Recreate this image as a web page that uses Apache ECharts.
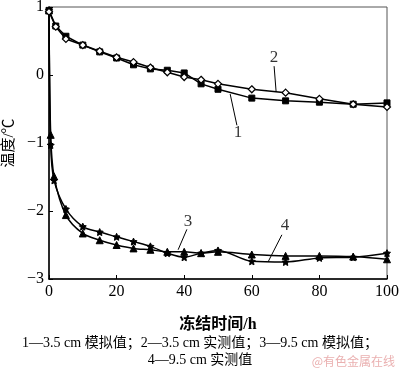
<!DOCTYPE html>
<html><head><meta charset="utf-8">
<script src="https://cdn.jsdelivr.net/npm/echarts@6/dist/echarts.min.js"></script>
<style>html,body{margin:0;padding:0;background:#fff}#c{width:400px;height:370px}</style>
</head><body><div id="c"></div>
<script>
var xA = [0, 2, 5, 10, 15, 20, 25, 30, 35, 40, 45, 50, 60, 70, 80, 90, 100];
var sim35 = [0.95, 0.72, 0.57, 0.44, 0.34, 0.25, 0.15, 0.09, 0.07, 0.03, -0.13, -0.21, -0.34, -0.38, -0.40, -0.43, -0.41];
var mea35 = [0.93, 0.71, 0.53, 0.44, 0.35, 0.26, 0.19, 0.11, 0.04, -0.03, -0.07, -0.13, -0.21, -0.26, -0.35, -0.43, -0.47];
var xB = [0, 0.5, 1.5, 5, 10, 15, 20, 25, 30, 35, 40, 45, 50, 60, 70, 80, 90, 100];
var sim95 = [0.95, -0.88, -1.49, -2.06, -2.33, -2.43, -2.50, -2.55, -2.57, -2.60, -2.60, -2.62, -2.60, -2.64, -2.66, -2.66, -2.67, -2.71];
var mea95 = [0.95, -1.03, -1.55, -1.97, -2.23, -2.31, -2.38, -2.45, -2.52, -2.62, -2.68, -2.62, -2.58, -2.74, -2.75, -2.69, -2.68, -2.62];
var xTicks = [0, 20, 40, 60, 80, 100];
var yTicks = [-3, -2, -1, 0, 1];
var tags = [
  {name: '1', at: [55.9, -0.84], line: [[53.6, -0.28], [55.6, -0.74]]},
  {name: '2', at: [66.6, 0.25], line: [[66.6, 0.13], [67.2, -0.25]]},
  {name: '3', at: [41.1, -2.16], line: [[40.8, -2.27], [38.2, -2.57]]},
  {name: '4', at: [69.8, -2.22], line: [[68.9, -2.35], [64.8, -2.75]]}
];
var notes = ['1—3.5 cm 模拟值；2—3.5 cm 实测值；3—9.5 cm 模拟值；', '4—9.5 cm 实测值'];
var mark = '@有色金属在线';

var serif = '"Liberation Serif", "Noto Sans CJK SC", serif';
var star = 'path://M0,-10 L2.9,-4 9.5,-3.1 4.7,1.5 5.9,8.1 0,5 -5.9,8.1 -4.7,1.5 -9.5,-3.1 -2.9,-4 Z';
function zip(xs, ys) { return xs.map(function (x, i) { return [x, ys[i]]; }); }
var base = {type: 'line', lineStyle: {color: '#000', width: 1.5}, itemStyle: {color: '#000', borderColor: '#000'}, z: 3};
var series = [
  Object.assign({}, base, {data: zip(xA, sim35), symbol: 'rect', symbolSize: 6}),
  Object.assign({}, base, {data: zip(xA, mea35), symbol: 'diamond', symbolSize: 7, itemStyle: {color: '#fff', borderColor: '#000', borderWidth: 1.2}, z: 4}),
  Object.assign({}, base, {data: zip(xB, sim95), symbol: 'triangle', symbolSize: 7, smooth: 0.3}),
  Object.assign({}, base, {data: zip(xB, mea95), symbol: star, symbolSize: 7, smooth: 0.3})
];
tags.forEach(function (t) {
  series.push({type: 'line', data: t.line, symbol: 'none', lineStyle: {color: '#000', width: 1}, silent: true});
  series.push({type: 'scatter', data: [t.at], symbolSize: 0, silent: true,
    label: {show: true, position: 'inside', formatter: t.name, fontFamily: serif, fontSize: 17, color: '#000'}});
});
var chart = echarts.init(document.getElementById('c'));
chart.setOption({
  animation: false,
  grid: {left: 49, right: 13, top: 7, bottom: 91, show: true, borderColor: '#555', borderWidth: 1,
    containLabel: false, outerBoundsMode: 'none'},
  xAxis: {type: 'value', min: 0, max: 100, interval: 20,
    axisLine: {show: true, onZero: false, lineStyle: {color: '#000', width: 1.5}},
    axisTick: {show: true, inside: true, length: 4, lineStyle: {color: '#000'}},
    splitLine: {show: false},
    axisLabel: {fontFamily: serif, fontSize: 16, color: '#000', margin: 5,
      customValues: xTicks},
    name: '冻结时间/h', nameLocation: 'middle', nameGap: 38,
    nameTextStyle: {fontFamily: serif, fontSize: 16, fontWeight: 'bold', color: '#000'}},
  yAxis: {type: 'value', min: -3, max: 1, interval: 1,
    axisLine: {show: true, onZero: false, lineStyle: {color: '#000', width: 1.5}},
    axisTick: {show: true, inside: true, length: 4, lineStyle: {color: '#000'}},
    splitLine: {show: false},
    axisLabel: {fontFamily: serif, fontSize: 16, color: '#000', margin: 5,
      formatter: function (v) { return String(v).replace('-', '−'); }},
    name: '温度/℃', nameLocation: 'middle', nameGap: 32,
    nameTextStyle: {fontFamily: serif, fontSize: 15, color: '#000'}},
  series: series,
  graphic: [
    {type: 'text', left: 'center', top: 336, style: {text: notes[0], font: '14px ' + serif, fill: '#000'}},
    {type: 'text', left: 'center', top: 353, style: {text: notes[1], font: '14px ' + serif, fill: '#000'}},
    {type: 'text', right: 5, top: 355, style: {text: mark, font: '12px "Noto Sans CJK SC"', fill: '#eab0b0'}}
  ]
});
</script></body></html>
